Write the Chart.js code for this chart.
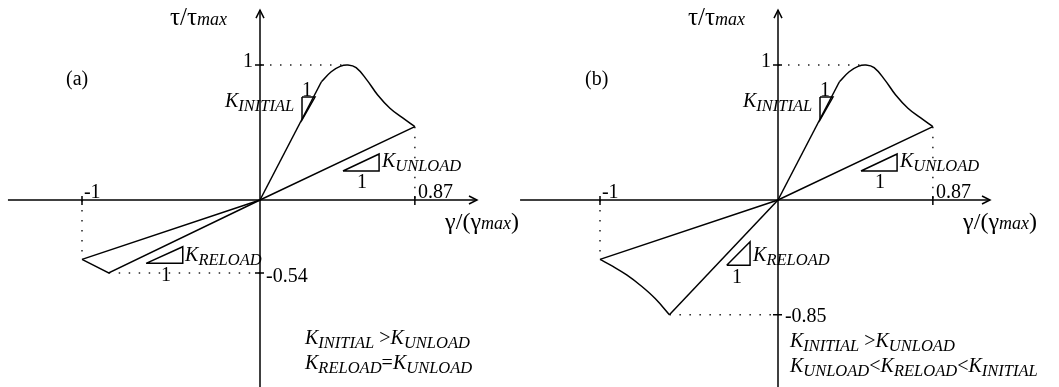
<!DOCTYPE html>
<html>
<head>
<meta charset="utf-8">
<script src="https://cdn.jsdelivr.net/npm/chart.js@4.4.1/dist/chart.umd.min.js"></script>
<style>
  html, body { margin: 0; padding: 0; background: #fff; }
  #wrap { width: 1059px; height: 387px; position: relative; }
</style>
</head>
<body>
<div id="wrap"><canvas id="loops"></canvas></div>
<script>
// normalised values (x = gamma/gamma_max, y = tau/tau_max)

// initial loading line, same in both panels
const initX = [0, 0.345];
const initY = [0, 0.876];

// peak of the loading branch down to the unloading point
const peakCurveX = [0.345, 0.40, 0.45, 0.494, 0.54, 0.60, 0.66, 0.73, 0.80, 0.87];
const peakCurveY = [0.876, 0.95, 0.99, 1.0, 0.98, 0.89, 0.78, 0.68, 0.61, 0.543];

// unloading line through the origin down to gamma = -1
const unloadX = [0.87, 0, -1];
const unloadY = [0.543, 0, -0.44];

// panel (a) reloading
const reloadAX = [-1, -0.85, 0];
const reloadAY = [-0.44, -0.54, 0];

// panel (b) reloading: curved part then straight back to origin
const reloadBX = [-1, -0.93, -0.85, -0.77, -0.69, -0.61];
const reloadBY = [-0.44, -0.49, -0.555, -0.635, -0.73, -0.85];
const reloadBLineX = [-0.61, 0];
const reloadBLineY = [-0.85, 0];

// slope triangles
const triInitX = [0.236, 0.309, 0.236, 0.236];
const triInitY = [0.763, 0.763, 0.593, 0.763];
const triUnloadX = [0.466, 0.669, 0.669, 0.466];
const triUnloadY = [0.215, 0.215, 0.341, 0.215];
const triReloadAX = [-0.64, -0.434, -0.434, -0.64];
const triReloadAY = [-0.469, -0.469, -0.346, -0.469];
const triReloadBX = [-0.288, -0.157, -0.157, -0.288];
const triReloadBY = [-0.484, -0.484, -0.309, -0.484];

// tick values
const xTicks = [-1, 0.87];
const xTickLabels = ['-1', '0.87'];
const yTicksA = [1, -0.54];
const yTicksB = [1, -0.85];
const yTickLabelsA = ['1', '-0.54'];
const yTickLabelsB = ['1', '-0.85'];
const peakX = 0.494;

// axis extents
const axisXA = [-1.416, 1.219];
const axisXB = [-1.449, 1.191];
const axisY = [-1.45, 1.407];

// layout (pixels)
const W = 1059, H = 387;
const originA = 260, originB = 778, originY = 200;
const pxX = 178, pxY = 135;

const SERIF = '"Liberation Serif", "Times New Roman", serif';
const f = (size, italic) => (italic ? 'italic ' : '') + size + 'px ' + SERIF;

const pts = (xs, ys) => xs.map((x, i) => ({ x: x, y: ys[i] }));

function line(xs, ys, axis, extra) {
  return Object.assign({
    data: pts(xs, ys),
    xAxisID: axis,
    showLine: true,
    borderColor: '#000',
    borderWidth: 1.5,
    pointRadius: 0,
    tension: 0,
    fill: false
  }, extra || {});
}
const dotted = { borderDash: [1.5, 8.5], borderWidth: 1.5, borderColor: '#222' };
const smooth = { tension: 0.4 };

const datasets = [];
[['xa', axisXA], ['xb', axisXB]].forEach(([ax, ext]) => {
  datasets.push(line(ext, [0, 0], ax));
  datasets.push(line([0, 0], axisY, ax));
  datasets.push(line(initX, initY, ax));
  datasets.push(line(peakCurveX, peakCurveY, ax, smooth));
  datasets.push(line(unloadX, unloadY, ax));
  datasets.push(line(triInitX, triInitY, ax));
  datasets.push(line(triUnloadX, triUnloadY, ax));
  datasets.push(line([0, peakX], [1, 1], ax, dotted));
  datasets.push(line([0.87, 0.87], [0.543, 0], ax, dotted));
  datasets.push(line([-1, -1], [0, -0.44], ax, dotted));
});
datasets.push(line(reloadAX, reloadAY, 'xa'));
datasets.push(line(triReloadAX, triReloadAY, 'xa'));
datasets.push(line([-0.85, 0], [-0.54, -0.54], 'xa', dotted));
datasets.push(line(reloadBX, reloadBY, 'xb', smooth));
datasets.push(line(reloadBLineX, reloadBLineY, 'xb'));
datasets.push(line(triReloadBX, triReloadBY, 'xb'));
datasets.push(line([-0.61, 0], [-0.85, -0.85], 'xb', dotted));

// text: [axis, x, y, parts]; part = [text, size, italic, dy]
const K = (sub) => [['K', 20, true, 0], [sub, 16.5, true, 4]];
const labels = [];
['xa', 'xb'].forEach(ax => {
  labels.push([ax, -0.506, 1.296, [['\u03c4/\u03c4', 25, false, 0], ['max', 18, true, 0]]]);
  labels.push([ax, -0.096, 0.985, [['1', 20, false, 0]]]);
  labels.push([ax, -0.989, 0.015, [[xTickLabels[0], 20, false, 0]]]);
  labels.push([ax, 0.888, 0.015, [[xTickLabels[1], 20, false, 0]]]);
  labels.push([ax, 1.04, -0.215, [['\u03b3/(\u03b3', 24, false, 0], ['max', 18, true, 0], [')', 24, false, 0]]]);
  labels.push([ax, -0.197, 0.689, K('INITIAL')]);
  labels.push([ax, 0.236, 0.77, [['1', 20, false, 0]]]);
  labels.push([ax, 0.685, 0.244, K('UNLOAD')]);
  labels.push([ax, 0.545, 0.089, [['1', 20, false, 0]]]);
});
labels.push(['xa', -1.09, 0.852, [['(a)', 20, false, 0]]]);
labels.push(['xb', -1.084, 0.852, [['(b)', 20, false, 0]]]);
labels.push(['xa', 0.034, -0.607, [[yTickLabelsA[1], 20, false, 0]]]);
labels.push(['xb', 0.039, -0.904, [[yTickLabelsB[1], 20, false, 0]]]);
labels.push(['xa', -0.421, -0.452, K('RELOAD')]);
labels.push(['xa', -0.556, -0.6, [['1', 20, false, 0]]]);
labels.push(['xb', -0.14, -0.452, K('RELOAD')]);
labels.push(['xb', -0.258, -0.615, [['1', 20, false, 0]]]);
labels.push(['xa', 0.253, -1.067, [...K('INITIAL'), [' >', 20, false, 0], ...K('UNLOAD')]]);
labels.push(['xa', 0.253, -1.252, [...K('RELOAD'), ['=', 20, false, 0], ...K('UNLOAD')]]);
labels.push(['xb', 0.067, -1.089, [...K('INITIAL'), [' >', 20, false, 0], ...K('UNLOAD')]]);
labels.push(['xb', 0.067, -1.274, [...K('UNLOAD'), ['<', 20, false, 0], ...K('RELOAD'), ['<', 20, false, 0], ...K('INITIAL')]]);

const decor = {
  id: 'decor',
  afterDatasetsDraw(chart) {
    const ctx = chart.ctx;
    const ys = chart.scales.y;
    ctx.save();
    ctx.strokeStyle = '#000';
    ctx.fillStyle = '#000';
    ctx.lineWidth = 1.5;
    [['xa', axisXA, yTicksA], ['xb', axisXB, yTicksB]].forEach(([ax, ext, yt]) => {
      const xs = chart.scales[ax];
      const x0 = xs.getPixelForValue(0), y0 = ys.getPixelForValue(0);
      // arrow heads
      const tx = xs.getPixelForValue(ext[1]);
      const ty = ys.getPixelForValue(axisY[1]);
      ctx.beginPath();
      ctx.moveTo(tx - 8, y0 - 4); ctx.lineTo(tx, y0); ctx.lineTo(tx - 8, y0 + 4);
      ctx.moveTo(x0 - 4, ty + 8); ctx.lineTo(x0, ty); ctx.lineTo(x0 + 4, ty + 8);
      ctx.stroke();
      // tick marks
      ctx.beginPath();
      xTicks.forEach(v => {
        const p = xs.getPixelForValue(v);
        ctx.moveTo(p, y0 - 4); ctx.lineTo(p, y0 + 5);
      });
      yt.forEach(v => {
        const p = ys.getPixelForValue(v);
        ctx.moveTo(x0 - 5, p); ctx.lineTo(x0 + 4, p);
      });
      ctx.stroke();
    });
    ctx.textBaseline = 'alphabetic';
    labels.forEach(([ax, x, y, parts]) => {
      let cx = chart.scales[ax].getPixelForValue(x);
      const cy = ys.getPixelForValue(y);
      parts.forEach(([t, size, it, dy]) => {
        ctx.font = f(size, it);
        ctx.fillText(t, cx, cy + dy);
        cx += ctx.measureText(t).width;
      });
    });
    ctx.restore();
  }
};

new Chart(document.getElementById('loops'), {
  type: 'scatter',
  data: { datasets: datasets },
  options: {
    responsive: true,
    maintainAspectRatio: false,
    animation: false,
    events: [],
    layout: { padding: 0, autoPadding: false },
    plugins: { legend: { display: false }, tooltip: { enabled: false } },
    scales: {
      xa: { type: 'linear', display: false, min: -originA / pxX, max: (W - originA) / pxX },
      xb: { type: 'linear', display: false, min: -originB / pxX, max: (W - originB) / pxX },
      y: { type: 'linear', display: false, min: -(H - originY) / pxY, max: originY / pxY }
    }
  },
  plugins: [decor]
});
</script>
</body>
</html>
